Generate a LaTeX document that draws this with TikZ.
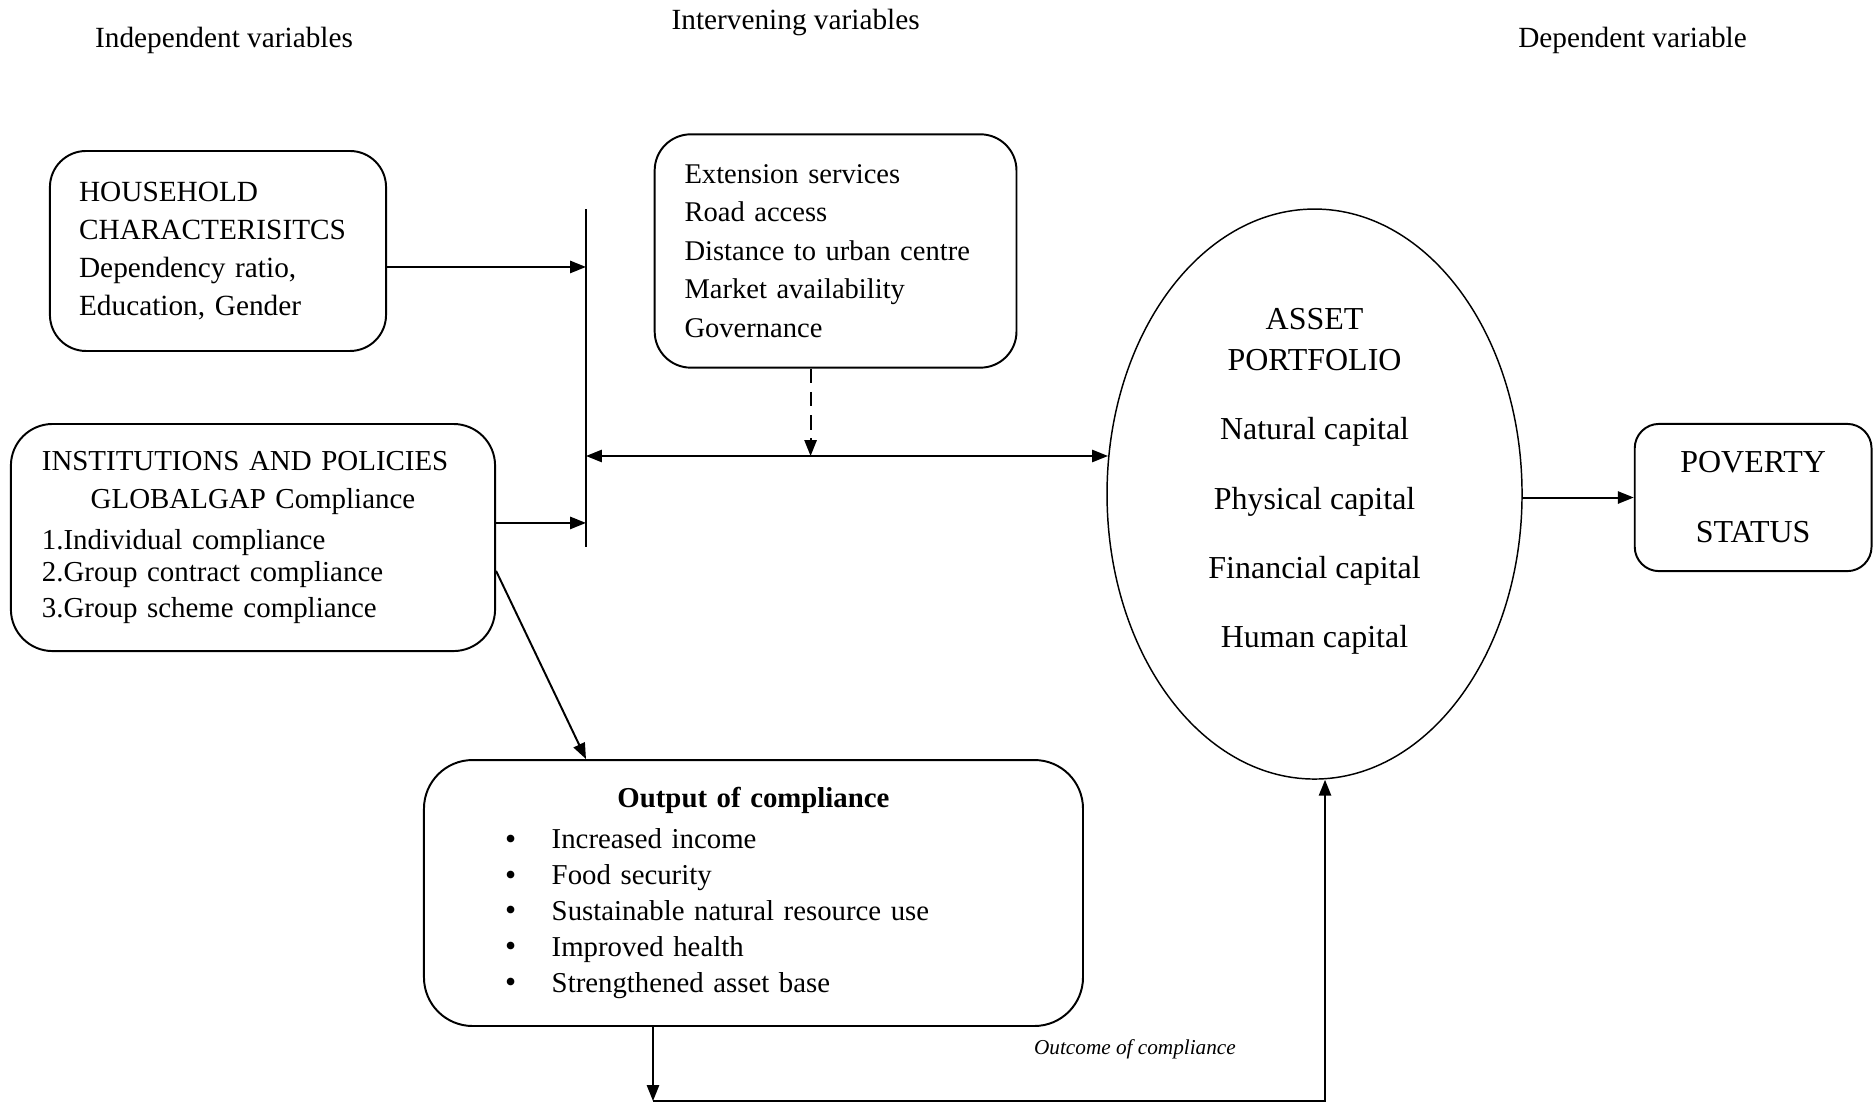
\documentclass[tikz,border=0pt]{standalone}
\usepackage{fontspec}
\setmainfont{Liberation Serif}
\usetikzlibrary{arrows.meta,positioning,shapes.geometric}
\tikzset{
    >={Triangle[length=6.5pt,width=5pt]},
    font=\fontsize{12}{15.8}\selectfont,
    heading/.style={align=center},
    round box/.style={rectangle,rounded corners=0.52cm,draw,thick,align=left,inner xsep=0.42cm,inner ysep=0pt},
    asset ellipse/.style={ellipse,draw,semithick,minimum width=5.976cm,minimum height=8.208cm,inner sep=0pt},
    big text/.style={align=center,font=\fontsize{13.1}{16.8}\selectfont},
    outcome text/.style={font=\fontsize{8.7}{10}\selectfont\itshape}
}
\newcommand{\outitem}{\hspace*{0.87cm}\makebox[0.67cm][l]{\raisebox{-0.2pt}{\fontsize{13}{13}\selectfont\textbullet}}}
\newcommand{\midline}[1]{\hspace*{\fill}#1\hspace*{\fill}\null}

\begin{document}
\begin{tikzpicture}
    \useasboundingbox (0,0) rectangle (27.014,-15.883);
    % column titles
    \node[heading] (indep) at (3.226,-0.587) {Independent variables};
    \node[heading] (interv) at (11.457,-0.327) {Intervening variables};
    \node[heading] (dep) at (23.508,-0.587) {Dependent variable};
    % boxes
    \node[round box, text width=4.0cm, minimum height=2.88cm, font=\fontsize{12}{15.6}\selectfont] (house) at (3.139,-3.614)
        {HOUSEHOLD\\CHARACTERISITCS\\Dependency ratio,\\Education, Gender\\[1.2pt]};
    \node[round box, text width=4.35cm, minimum height=3.36cm, inner xsep=0.43cm, font=\fontsize{11.7}{15.8}\selectfont] (ext) [right = 3.84cm of house]
        {Extension services\\Road access\\Distance to urban centre\\Market availability\\Governance};
    \node[round box, text width=6.08cm, minimum height=3.27cm, inner xsep=0.446cm, rounded corners=0.6cm, font=\fontsize{11.85}{14.7}\selectfont] (inst) at (3.643,-7.740)
        {INSTITUTIONS AND POLICIES\\[1pt]\midline{GLOBALGAP Compliance}\\[2pt]1.Individual compliance\\[-1.5pt]2.Group contract compliance\\3.Group scheme compliance};
    \node[asset ellipse] (assets) at (18.929,-7.114) {};
    \node[big text] (assettext) at ([yshift=0.18cm]assets.center)
        {ASSET\\PORTFOLIO\\[11.6pt]Natural capital\\[11.6pt]Physical capital\\[11.6pt]Financial capital\\[11.6pt]Human capital};
    \node[round box, align=center, font=\fontsize{13.1}{16}\selectfont, minimum width=3.41cm, minimum height=2.12cm, rounded corners=0.35cm, inner xsep=0pt] (poverty) [right = 1.598cm of assets, yshift=-0.05cm]
        {POVERTY\\[12.7pt]STATUS};
    \node[round box, text width=8.89cm, minimum height=3.83cm, inner xsep=0.3cm, rounded corners=0.7cm, font=\fontsize{11.8}{14.7}\selectfont] (output) at (10.850,-12.859)
        {\midline{\textbf{Output of compliance}}\\[2pt]\outitem Increased income\\\outitem Food security\\\outitem Sustainable natural resource use\\\outitem Improved health\\\outitem Strengthened asset base\\[-3pt]};
    \node[outcome text] (outcome) at ([xshift=0.734cm,yshift=-0.317cm]output.south east) {Outcome of compliance};
    % bar and loop points
    \coordinate (bartop) at (8.438,-3.010);
    \coordinate (barbot) at (8.438,-7.877);
    \coordinate (barmid) at (8.438,-6.566);
    \coordinate (loopa) at (9.403,-15.854);
    \coordinate (loopb) at (19.080,-15.854);
    \draw[thick] (bartop) -- (barbot);
    \path[thick]
        ([yshift=-0.23cm]house.east) edge [->] ([yshift=-0.23cm]house.east -| bartop)
        ([yshift=0.21cm]inst.east) edge [->] ([yshift=0.21cm]inst.east -| bartop)
        ([yshift=-0.48cm]inst.east) edge [->] (output.north -| bartop)
        (barmid) edge [<->] (barmid -| assets.170)
        ([xshift=-0.36cm]ext.south) edge [->, dash pattern=on 6pt off 3.5pt] ([xshift=-0.36cm]ext.south |- barmid)
        (assets.east |- poverty.west) edge [->] (poverty.west)
        (output.south -| loopa) edge [->] (loopa);
    \draw[thick, ->] (loopa) -- (loopb) -- (loopb |- assets.south);
\end{tikzpicture}
\end{document}
